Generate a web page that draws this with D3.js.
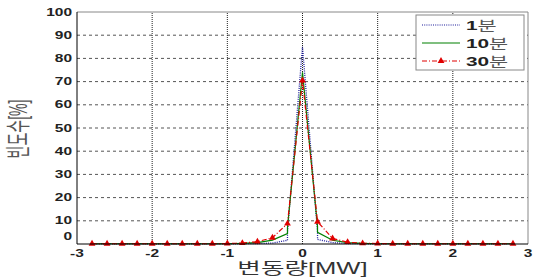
<!DOCTYPE html>
<html>
<head>
<meta charset="utf-8">
<script src="https://cdn.jsdelivr.net/npm/d3@7"></script>
<style>
  body { margin: 0; background: #fff; }
  svg { display: block; font-family: "Liberation Sans", Arial, "Noto Sans CJK KR", sans-serif; }
</style>
</head>
<body>
<div id="chart"></div>
<script>
// tick labels
const xTicks = [-3, -2, -1, 0, 1, 2, 3];
const yTicks = [0, 10, 20, 30, 40, 50, 60, 70, 80, 90, 100];

// 30분: one point every 0.2 MW
const x30 = [-2.8, -2.6, -2.4, -2.2, -2.0, -1.8, -1.6, -1.4, -1.2, -1.0, -0.8, -0.6, -0.4, -0.2, 0,
  0.2, 0.4, 0.6, 0.8, 1.0, 1.2, 1.4, 1.6, 1.8, 2.0, 2.2, 2.4, 2.6, 2.8];
const y30 = [0.1, 0.1, 0.1, 0.1, 0.1, 0.1, 0.1, 0.1, 0.1, 0.2, 0.4, 1.0, 2.7, 8.8, 70.5,
  9.6, 2.4, 0.8, 0.3, 0.2, 0.1, 0.1, 0.1, 0.1, 0.1, 0.1, 0.1, 0.1, 0.1];

// 10분 (drops straight down at +-0.2)
const x10 = [-2.8, -2.0, -1.2, -1.0, -0.8, -0.6, -0.4, -0.2, -0.2, 0, 0.2, 0.2, 0.4, 0.6, 0.8, 1.0, 1.2, 2.0, 2.8];
const y10 = [0.1, 0.1, 0.1, 0.1, 0.3, 0.6, 1.7, 4.5, 7.0, 74.0, 7.5, 5.0, 1.6, 0.6, 0.3, 0.1, 0.1, 0.1, 0.1];

// 1분
const x1 = [-2.8, -2.0, -1.0, -0.8, -0.6, -0.4, -0.2, -0.2, 0, 0.2, 0.2, 0.4, 0.6, 0.8, 1.0, 2.0, 2.8];
const y1 = [0.1, 0.1, 0.1, 0.1, 0.2, 0.4, 1.6, 5.0, 85.0, 5.0, 2.0, 0.6, 0.2, 0.1, 0.1, 0.1, 0.1];

const seriesNums = ['1', '10', '30'];
const unit = '분';

const width = 534;
const height = 277;
const margin = { top: 12, right: 6, bottom: 33, left: 77 };

const svg = d3.select('#chart')
  .append('svg')
  .attr('width', width)
  .attr('height', height);

const x = d3.scaleLinear().domain([-3, 3]).range([margin.left, width - margin.right]);
const y = d3.scaleLinear().domain([0, 100]).range([height - margin.bottom, margin.top]);

// grid
svg.append('g')
  .selectAll('line')
  .data(yTicks.filter(d => d > 0 && d < 100))
  .join('line')
  .attr('x1', x(-3)).attr('x2', x(3))
  .attr('y1', d => y(d)).attr('y2', d => y(d))
  .attr('stroke', '#555')
  .attr('stroke-width', 1)
  .attr('stroke-dasharray', '3,3');

svg.append('g')
  .selectAll('line')
  .data(xTicks.filter(d => d > -3 && d < 3))
  .join('line')
  .attr('x1', d => x(d)).attr('x2', d => x(d))
  .attr('y1', y(0)).attr('y2', y(100))
  .attr('stroke', '#222')
  .attr('stroke-width', 1)
  .attr('stroke-dasharray', '1,1');

// box
svg.append('line')
  .attr('x1', x(-3)).attr('x2', x(3)).attr('y1', y(100)).attr('y2', y(100))
  .attr('stroke', '#888');
svg.append('line')
  .attr('x1', x(3)).attr('x2', x(3)).attr('y1', y(0)).attr('y2', y(100))
  .attr('stroke', '#888');

// series lines
const line = d3.line().x(d => x(d[0])).y(d => y(d[1]));
const pts1 = x1.map((v, i) => [v, y1[i]]);
const pts10 = x10.map((v, i) => [v, y10[i]]);
const pts30 = x30.map((v, i) => [v, y30[i]]);

svg.append('path')
  .datum(pts1)
  .attr('d', line)
  .attr('fill', 'none')
  .attr('stroke', '#1a1a9a')
  .attr('stroke-width', 1.3)
  .attr('stroke-dasharray', '1,1.2');

svg.append('path')
  .datum(pts10)
  .attr('d', line)
  .attr('fill', 'none')
  .attr('stroke', '#008000')
  .attr('stroke-width', 1.2);

svg.append('path')
  .datum(pts30)
  .attr('d', line)
  .attr('fill', 'none')
  .attr('stroke', '#e00000')
  .attr('stroke-width', 1.2)
  .attr('stroke-dasharray', '5,2,1,2');

const tri = d3.symbol().type(d3.symbolTriangle).size(20);
svg.append('g')
  .selectAll('path')
  .data(pts30)
  .join('path')
  .attr('d', tri)
  .attr('transform', d => `translate(${x(d[0])},${y(d[1])})`)
  .attr('fill', '#e00000');

// axes (left and bottom)
svg.append('line')
  .attr('x1', x(-3)).attr('x2', x(-3)).attr('y1', y(0)).attr('y2', y(100))
  .attr('stroke', '#000');
svg.append('line')
  .attr('x1', x(-3)).attr('x2', x(3)).attr('y1', y(0)).attr('y2', y(0))
  .attr('stroke', '#000');

// tick labels (the picture is stretched sideways, so text is scaled in x)
const sx = 1.55;
svg.append('g')
  .selectAll('text')
  .data(yTicks)
  .join('text')
  .attr('transform', d => `translate(${x(-3) - 5},${y(d) + 3.5 - (d === 0 ? 8 : 0)}) scale(${sx},1)`)
  .attr('text-anchor', 'end')
  .attr('font-size', 10)
  .attr('font-weight', 'bold')
  .attr('fill', '#222')
  .text(d => d);

svg.append('g')
  .selectAll('text')
  .data(xTicks)
  .join('text')
  .attr('transform', d => `translate(${x(d)},${y(0) + 13}) scale(${sx},1)`)
  .attr('text-anchor', 'middle')
  .attr('font-size', 10)
  .attr('font-weight', 'bold')
  .attr('fill', '#222')
  .text(d => d);

// axis titles
svg.append('text')
  .attr('transform', `translate(${x(0)},${height - 3}) scale(1.6,1)`)
  .attr('text-anchor', 'middle')
  .attr('font-size', 16)
  .attr('fill', '#333')
  .text('변동량[MW]');

svg.append('text')
  .attr('transform', `translate(27,${y(50) + 1}) scale(1.8,1) rotate(-90)`)
  .attr('text-anchor', 'middle')
  .attr('font-size', 14)
  .attr('fill', '#555')
  .text('빈도수[%]');

// legend
const legend = svg.append('g');
legend.append('rect')
  .attr('x', 416).attr('y', 15)
  .attr('width', 108).attr('height', 55)
  .attr('fill', '#fff')
  .attr('stroke', '#888');

const legendY = [25, 43, 61];
const styles = [
  { stroke: '#1a1a9a', dash: '1,1.2' },
  { stroke: '#008000', dash: null },
  { stroke: '#e00000', dash: '5,2,1,2' },
];
seriesNums.forEach((num, i) => {
  legend.append('line')
    .attr('x1', 422).attr('x2', 460)
    .attr('y1', legendY[i]).attr('y2', legendY[i])
    .attr('stroke', styles[i].stroke)
    .attr('stroke-width', 1.2)
    .attr('stroke-dasharray', styles[i].dash);
  if (i === 2) {
    legend.append('path')
      .attr('d', tri)
      .attr('transform', `translate(441,${legendY[i]})`)
      .attr('fill', '#e00000');
  }
  const t = legend.append('text')
    .attr('transform', `translate(466,${legendY[i] + 4.5}) scale(1.6,1)`)
    .attr('font-size', 13)
    .attr('fill', '#222');
  t.append('tspan').attr('font-weight', 'bold').text(num);
  t.append('tspan').attr('fill', '#555').text(unit);
});
</script>
</body>
</html>
